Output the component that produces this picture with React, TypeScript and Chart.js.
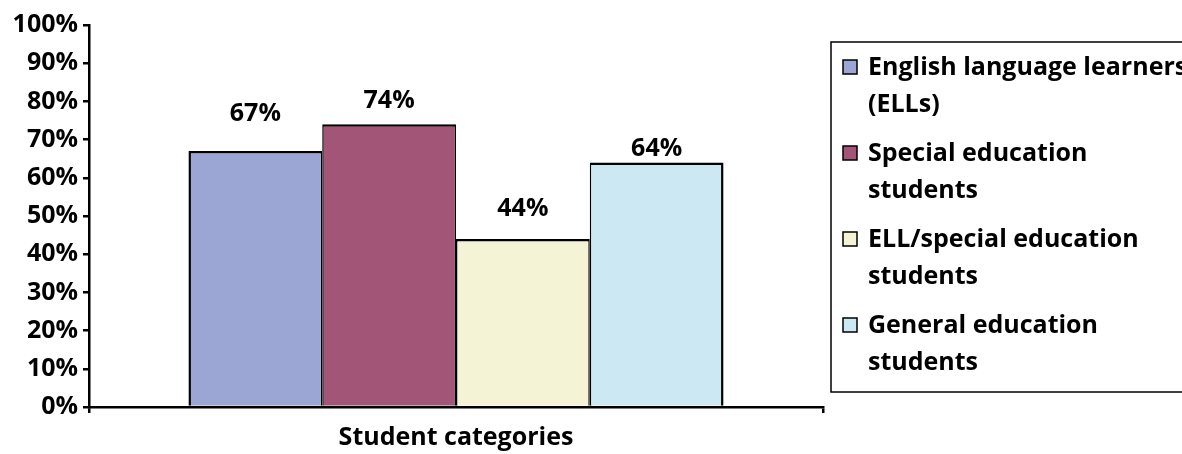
import React, { useEffect, useRef } from "react";
import { Chart, registerables } from "chart.js";

Chart.register(...registerables);

// ---- Data ----
const categories: string[] = [""];
const seriesNames: string[][] = [
  ["English language learners", "(ELLs)"],
  ["Special education", "students"],
  ["ELL/special education", "students"],
  ["General education", "students"],
];
const seriesValues: number[] = [67, 74, 44, 64];
const seriesColors: string[] = ["#9CA6D4", "#A25577", "#F4F3D6", "#CBE8F3"];
const xTitle = "Student categories";
const yMax = 100;
const yStep = 10;

const FONT_FAMILY = "'Open Sans', Lato, sans-serif";
const FONT_SIZE = 25;

const dataLabelPlugin = {
  id: "dataLabels",
  afterDatasetsDraw(chart: any, _args: any, opts: any) {
    const ctx = chart.ctx;
    const offsets: number[] = opts.offsets || [];
    ctx.save();
    ctx.font = `bold ${FONT_SIZE}px ${FONT_FAMILY}`;
    ctx.fillStyle = "#000";
    ctx.textAlign = "center";
    ctx.textBaseline = "middle";
    chart.data.datasets.forEach((ds: any, i: number) => {
      const meta = chart.getDatasetMeta(i);
      meta.data.forEach((bar: any, j: number) => {
        const v = ds.data[j];
        ctx.fillText(`${v}%`, bar.x, bar.y - (offsets[i] ?? 24));
      });
    });
    ctx.restore();
  },
};

const boxLegendPlugin = {
  id: "boxLegend",
  afterDraw(chart: any) {
    const ctx = chart.ctx;
    const area = chart.chartArea;
    const left = area.right + 8;
    const top = 42;
    const bottom = 392;
    ctx.save();
    ctx.strokeStyle = "#000";
    ctx.lineWidth = 1.5;
    ctx.strokeRect(left, top, chart.width + 20 - left, bottom - top);
    ctx.font = `bold ${FONT_SIZE}px ${FONT_FAMILY}`;
    ctx.textAlign = "left";
    ctx.textBaseline = "alphabetic";
    chart.data.datasets.forEach((ds: any, i: number) => {
      const baseY = 75 + i * 86;
      const mx = left + 12;
      const my = baseY - 15;
      ctx.fillStyle = ds.backgroundColor;
      ctx.fillRect(mx, my, 14, 14);
      ctx.strokeStyle = "#000";
      ctx.lineWidth = 1.5;
      ctx.strokeRect(mx, my, 14, 14);
      ctx.fillStyle = "#000";
      const lines: string[] = seriesNames[i];
      lines.forEach((ln, k) => {
        ctx.fillText(ln, left + 37, baseY + k * 37);
      });
    });
    ctx.restore();
  },
};

export default function App() {
  const canvasRef = useRef<HTMLCanvasElement | null>(null);

  useEffect(() => {
    if (!canvasRef.current) return;
    const font = { family: FONT_FAMILY, size: FONT_SIZE, weight: "bold" as const };
    const n = seriesValues.length;
    const chart = new Chart(canvasRef.current, {
      type: "bar",
      data: {
        labels: categories,
        datasets: seriesValues.map((v, i) => ({
          label: seriesNames[i].join(" "),
          data: [v],
          backgroundColor: seriesColors[i],
          borderColor: "#000",
          borderWidth: {
            top: 2.5,
            bottom: 0,
            left: i === 0 ? 2.5 : 1.5,
            right: i === n - 1 ? 2.5 : 1.5,
          },
          borderSkipped: false,
          inflateAmount: 0,
          categoryPercentage: 0.729,
          barPercentage: 1,
        })),
      },
      options: {
        responsive: false,
        animation: false,
        events: [],
        layout: { padding: { top: 25, right: 359, bottom: 0, left: 0 } },
        plugins: {
          legend: { display: false },
          tooltip: { enabled: false },
          dataLabels: { offsets: [37, 23, 30, 14] },
        } as any,
        scales: {
          x: {
            type: "category",
            offset: true,
            grid: {
              offset: true,
              drawOnChartArea: false,
              drawTicks: true,
              tickLength: 6,
              color: "#000",
              lineWidth: 2.5,
            },
            border: { color: "#000", width: 2.5 },
            ticks: { display: false },
            title: {
              display: true,
              text: xTitle,
              color: "#000",
              font,
              padding: { top: 0, bottom: 1 },
            },
            afterFit: (s: any) => {
              s.height = 47;
            },
          },
          y: {
            min: 0,
            max: yMax,
            ticks: {
              stepSize: yStep,
              color: "#000",
              font,
              padding: 5,
              callback: (v: any) => `${v}%`,
            },
            grid: {
              drawOnChartArea: false,
              drawTicks: true,
              tickLength: 6,
              color: "#000",
              lineWidth: 2.5,
            },
            border: { color: "#000", width: 2.5 },
            afterFit: (s: any) => {
              s.width = 89;
            },
          },
        },
      },
      plugins: [dataLabelPlugin, boxLegendPlugin],
    });
    return () => chart.destroy();
  }, []);

  return (
    <div style={{ position: "absolute", left: 0, top: 0, width: 1182, height: 454, background: "#fff" }}>
      <canvas ref={canvasRef} width={1182} height={454} style={{ display: "block" }} />
    </div>
  );
}
